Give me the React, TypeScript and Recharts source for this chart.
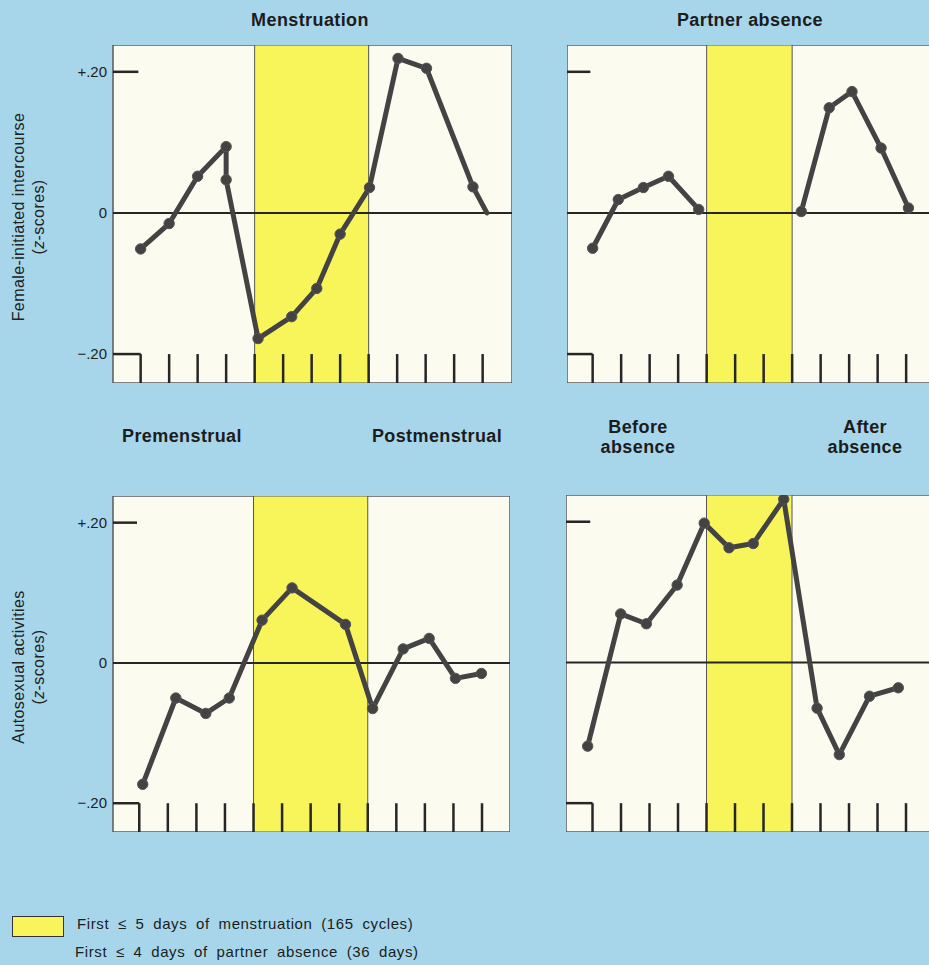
import React from 'react';
import {
  LineChart,
  Line,
  XAxis,
  YAxis,
  ReferenceArea,
  ReferenceLine
} from 'recharts';

// day ticks along the bottom of every panel
const dayTicks = [0, 1, 2, 3, 4, 5, 6, 7, 8, 9, 10, 11, 12];
const yTicks = [-0.2, 0, 0.2];
const yTickLabels = ['\u2212.20', '0', '+.20'];
const Y_DOMAIN: [number, number] = [-0.241, 0.238];

// Menstruation – female-initiated intercourse
const mensIntercourseDay = [0, 1, 2, 3, 3, 4.12, 5.3, 6.18, 7, 8.03, 9.03, 10.03, 11.66, 12.15];
const mensIntercourseZ = [-0.051, -0.015, 0.052, 0.094, 0.047, -0.178, -0.147, -0.107, -0.03, 0.036, 0.219, 0.205, 0.037, 0];

// Partner absence – female-initiated intercourse (gap while partner away)
const absIntercourseDay = [0, 0.9, 1.78, 2.66, 3.72, 5.5, 7.32, 8.3, 9.1, 10.12, 11.08];
const absIntercourseZ = [-0.05, 0.019, 0.036, 0.052, 0.005, null, 0.002, 0.149, 0.172, 0.092, 0.007];

// Menstruation – autosexual activities
const mensAutoDay = [0.12, 1.28, 2.33, 3.15, 4.3, 5.35, 7.22, 8.17, 9.24, 10.15, 11.07, 11.98];
const mensAutoZ = [-0.173, -0.05, -0.072, -0.05, 0.061, 0.107, 0.055, -0.065, 0.02, 0.035, -0.022, -0.015];

// Partner absence – autosexual activities
const absAutoDay = [-0.17, 0.99, 1.89, 2.97, 3.92, 4.79, 5.64, 6.71, 7.88, 8.66, 9.72, 10.73];
const absAutoZ = [-0.119, 0.069, 0.055, 0.11, 0.198, 0.163, 0.169, 0.232, -0.065, -0.131, -0.048, -0.036];

const mensBand: [number, number] = [4, 8];
const absBand: [number, number] = [4, 7];

const BG = '#a7d6eb';
const PANEL = '#fcfbf0';
const BAND = '#f8f55a';
const INK = '#262626';
const LINE = '#434343';
const FONT = '"Liberation Sans", Arial, Helvetica, sans-serif';

const toRows = (days: number[], z: (number | null)[]) =>
  days.map((x, i) => ({ x, y: z[i] }));

const AxisTitle = ({ viewBox, lines, height }: any) => {
  const cy = viewBox && viewBox.height ? viewBox.y + viewBox.height / 2 + 3 : height / 2 + 3;
  return (
    <g fontFamily={FONT} fontSize={16} fill="#222" letterSpacing={0.4}>
      <text transform={`translate(18, ${cy}) rotate(-90)`} textAnchor="middle" dominantBaseline="central">
        {lines}
      </text>
      <text transform={`translate(38, ${cy}) rotate(-90)`} textAnchor="middle" dominantBaseline="central">
        (<tspan fontStyle="italic">z</tspan>-scores)
      </text>
    </g>
  );
};

interface PanelProps {
  rows: { x: number; y: number | null }[];
  band: [number, number];
  xDomain: [number, number];
  left: number;
  top: number;
  plotWidth: number;
  height: number;
  axisWidth: number;
  yLabel?: string;
  hideLastDot?: boolean;
}

const Panel = ({ rows, band, xDomain, left, top, plotWidth, height, axisWidth, yLabel, hideLastDot }: PanelProps) => {
  const [x0, x1] = xDomain;
  const [y0, y1] = Y_DOMAIN;

  const renderDot = (props: any) => {
    const { cx, cy, index, key } = props;
    if (cy == null || cx == null || (hideLastDot && index === rows.length - 1)) {
      return <g key={key ?? index} />;
    }
    return <circle key={key ?? index} cx={cx} cy={cy} r={5.2} fill={LINE} stroke="#555" strokeWidth={1} />;
  };

  const renderTick = (props: any) => {
    const { y, payload } = props;
    const idx = yTicks.indexOf(payload.value);
    return (
      <text x={axisWidth - 6} y={y} dy="0.35em" textAnchor="end" fontFamily={FONT} fontSize={15} fill="#222">
        {yTickLabels[idx]}
      </text>
    );
  };

  return (
    <div style={{ position: 'absolute', left, top }}>
      <LineChart
        width={axisWidth + plotWidth}
        height={height}
        data={rows}
        margin={{ top: 0, right: 0, bottom: 0, left: 0 }}
      >
        <XAxis dataKey="x" type="number" domain={xDomain} allowDataOverflow hide />
        {axisWidth > 0 ? (
          <YAxis
            type="number"
            domain={Y_DOMAIN}
            allowDataOverflow
            width={axisWidth}
            ticks={yTicks}
            axisLine={false}
            tickLine={false}
            tick={renderTick}
            label={<AxisTitle lines={yLabel} height={height} />}
          />
        ) : (
          <YAxis type="number" domain={Y_DOMAIN} allowDataOverflow hide />
        )}
        <ReferenceArea x1={x0} x2={x1} y1={y0} y2={y1} fill={PANEL} fillOpacity={1} stroke="#5a5a5a" strokeWidth={1.5} />
        <ReferenceArea x1={band[0]} x2={band[1]} y1={y0} y2={y1} fill={BAND} fillOpacity={1} stroke="#555" strokeWidth={1} />
        <ReferenceLine y={0} stroke={INK} strokeWidth={2} />
        {dayTicks.map((d) => (
          <ReferenceLine key={d} segment={[{ x: d, y: y0 }, { x: d, y: -0.2 }]} stroke={INK} strokeWidth={2.5} />
        ))}
        <ReferenceLine segment={[{ x: x0, y: -0.2 }, { x: 0, y: -0.2 }]} stroke={INK} strokeWidth={2.5} />
        <ReferenceLine segment={[{ x: x0, y: 0.2 }, { x: -0.08, y: 0.2 }]} stroke={INK} strokeWidth={2.5} />
        <Line
          dataKey="y"
          type="linear"
          stroke={LINE}
          strokeWidth={5}
          strokeLinejoin="round"
          strokeLinecap="round"
          connectNulls={false}
          dot={renderDot}
          activeDot={false}
          isAnimationActive={false}
        />
      </LineChart>
    </div>
  );
};

const titles = [
  { lines: ['Menstruation'], cx: 310, cy: 20 },
  { lines: ['Partner absence'], cx: 750, cy: 20 },
  { lines: ['Premenstrual'], cx: 182, cy: 436 },
  { lines: ['Postmenstrual'], cx: 437, cy: 436 },
  { lines: ['Before', 'absence'], cx: 638, cy: 437 },
  { lines: ['After', 'absence'], cx: 865, cy: 437 }
];

export default function App() {
  return (
    <div
      style={{
        position: 'absolute',
        left: 0,
        top: 0,
        width: 929,
        height: 965,
        overflow: 'hidden',
        background: BG,
        fontFamily: FONT,
        color: '#1c1c1c'
      }}
    >
      {titles.map((t) => (
        <div
          key={t.lines.join(' ')}
          style={{
            position: 'absolute',
            left: t.cx - 110,
            width: 220,
            top: t.cy - (t.lines.length * 20) / 2,
            textAlign: 'center',
            fontSize: 18,
            lineHeight: '20px',
            fontWeight: 700,
            letterSpacing: 0.4
          }}
        >
          {t.lines.map((l) => (
            <div key={l}>{l}</div>
          ))}
        </div>
      ))}

      <Panel
        rows={toRows(mensIntercourseDay, mensIntercourseZ)}
        band={mensBand}
        xDomain={[-0.97, 13.03]}
        left={0}
        top={45}
        plotWidth={399}
        height={338}
        axisWidth={113}
        yLabel="Female-initiated intercourse"
        hideLastDot
      />
      <Panel
        rows={toRows(absIntercourseDay, absIntercourseZ)}
        band={absBand}
        xDomain={[-0.9, 13.1]}
        left={567}
        top={45}
        plotWidth={399}
        height={338}
        axisWidth={0}
      />
      <Panel
        rows={toRows(mensAutoDay, mensAutoZ)}
        band={mensBand}
        xDomain={[-0.92, 12.98]}
        left={0}
        top={496}
        plotWidth={397}
        height={336}
        axisWidth={113}
        yLabel="Autosexual activities"
      />
      <Panel
        rows={toRows(absAutoDay, absAutoZ)}
        band={absBand}
        xDomain={[-0.93, 13.07]}
        left={566}
        top={495}
        plotWidth={399}
        height={337}
        axisWidth={0}
      />

      <div
        style={{
          position: 'absolute',
          left: 12,
          top: 916,
          width: 50,
          height: 19,
          background: BAND,
          border: '1.5px solid #333'
        }}
      />
      <div style={{ position: 'absolute', left: 77, top: 915, fontSize: 15, lineHeight: '18px', letterSpacing: 0.6, wordSpacing: 4 }}>
        First ≤ 5 days of menstruation (165 cycles)
      </div>
      <div style={{ position: 'absolute', left: 75, top: 943, fontSize: 15, lineHeight: '18px', letterSpacing: 0.6, wordSpacing: 4 }}>
        First ≤ 4 days of partner absence (36 days)
      </div>
    </div>
  );
}
